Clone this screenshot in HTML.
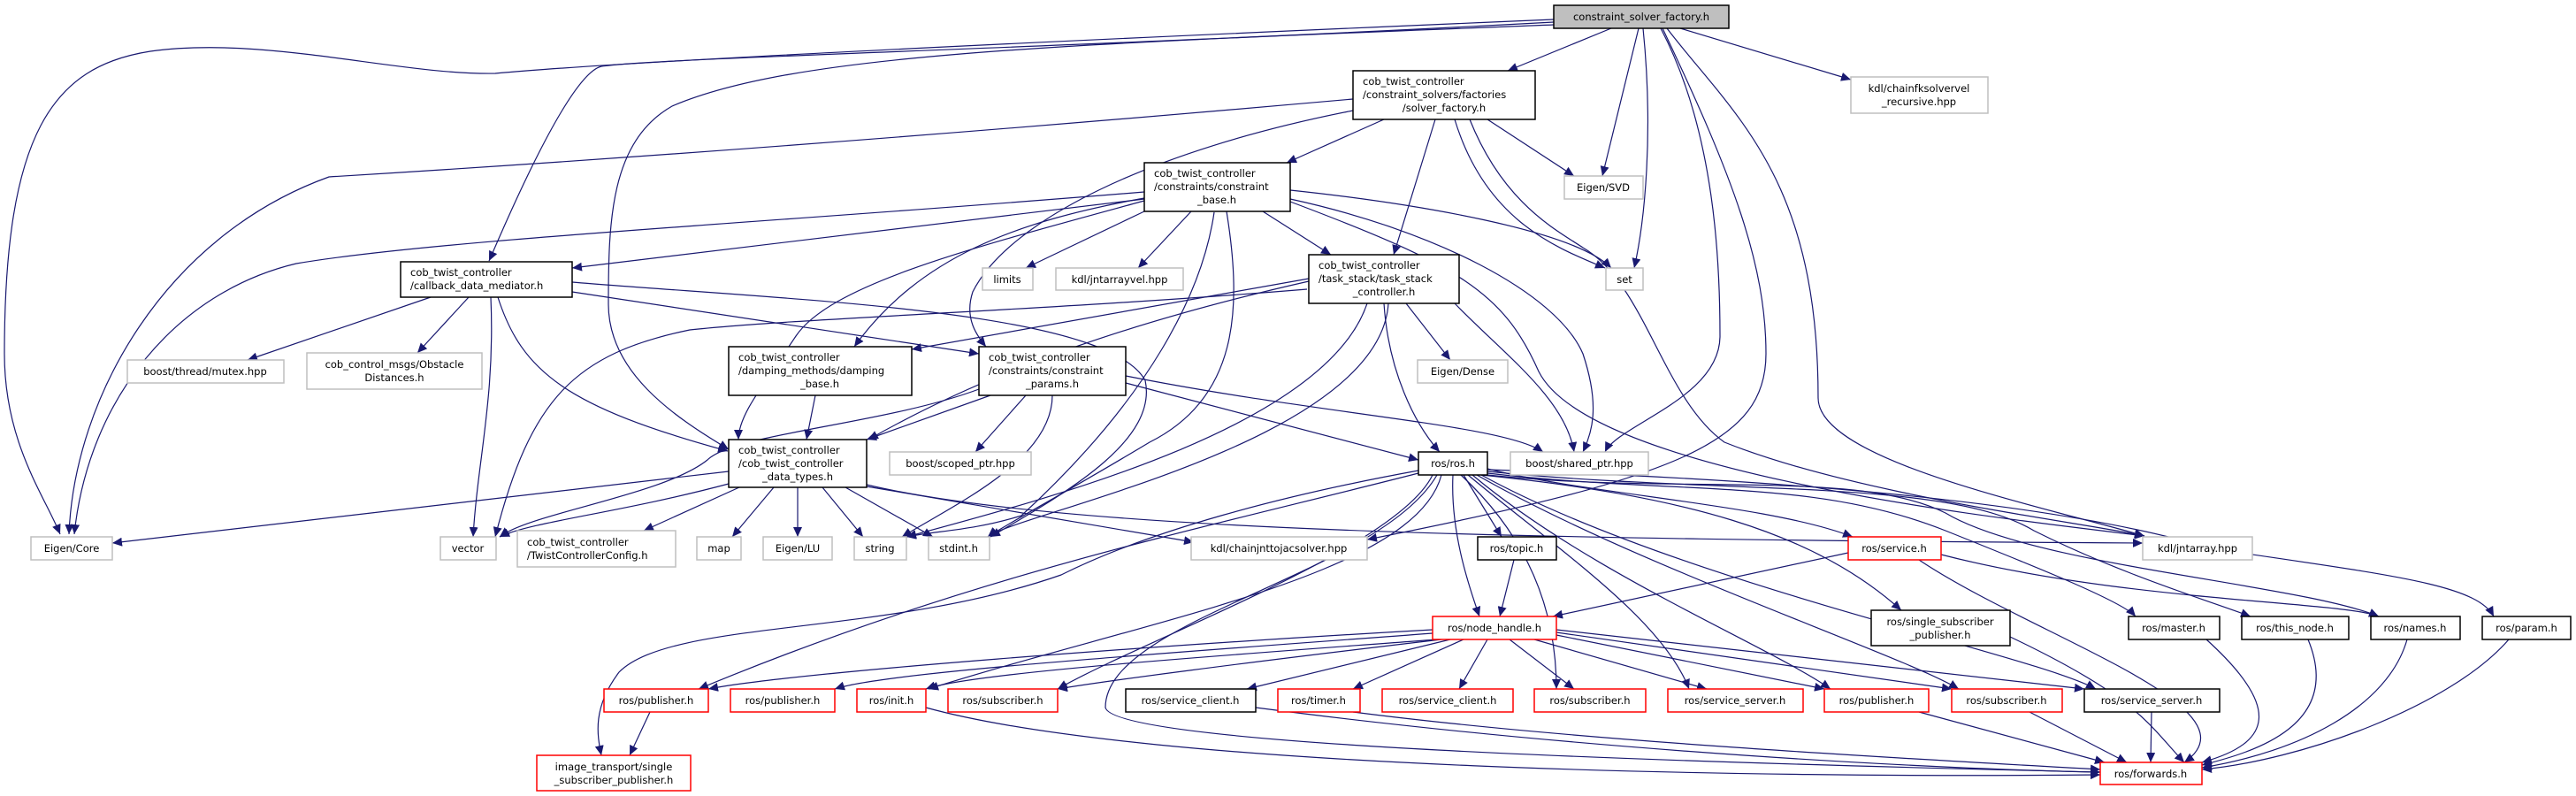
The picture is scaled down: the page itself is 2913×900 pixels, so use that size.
<!DOCTYPE html>
<html><head><meta charset="utf-8"><style>
html,body{margin:0;padding:0;background:#fff}
svg{display:block}
text{font-family:"DejaVu Sans","Liberation Sans",sans-serif;font-size:11.5px;fill:#000}
.e{fill:none;stroke:#191970;stroke-width:1.2}
.n{fill:#fff;stroke:#000;stroke-width:1.5}
.g{fill:#fff;stroke:#bfbfbf;stroke-width:1.5}
.r{fill:#fff;stroke:#ff0000;stroke-width:1.5}
</style></head><body>
<svg width="2913" height="900" viewBox="0 0 2913 900" xmlns="http://www.w3.org/2000/svg">
<defs><marker id="a" markerUnits="userSpaceOnUse" markerWidth="12" markerHeight="10" refX="11" refY="5" orient="auto"><path d="M0,0 L11,5 L0,10 z" fill="#191970"/></marker></defs>
<g marker-end="url(#a)">
<!-- CSF -->
<path class="e" d="M1757,22 C1100,50 700,70 560,83 C450,85 300,40 170,58 C60,75 5,150 5,400 C5,500 50,560 68,604"/>
<path class="e" d="M1757,25 C1200,55 750,65 680,75 C640,85 560,280 553,295"/>
<path class="e" d="M1757,28 C1200,50 900,60 760,120 C690,160 688,250 688,344 C688,420 760,470 824,508"/>
<path class="e" d="M1853,32 L1812,199"/>
<path class="e" d="M1858,32 C1870,150 1860,250 1848,303"/>
<path class="e" d="M1878,32 C1940,150 1945,300 1945,380 C1945,450 1830,480 1815,511"/>
<path class="e" d="M1885,32 C1960,130 2056,200 2056,450 C2056,520 2300,570 2425,606"/>
<path class="e" d="M1880,32 C1960,200 1997,300 1997,400 C1997,500 1900,540 1546,610"/>
<path class="e" d="M1900,32 L2093,90"/>
<path class="e" d="M1822,32 L1705,80"/>
<!-- SF -->
<path class="e" d="M1530,112 C1100,150 700,180 372,200 C186,267 84,450 78,604"/>
<path class="e" d="M1530,125 C1300,170 1140,250 1100,330 C1090,360 1105,380 1115,392"/>
<path class="e" d="M1565,135 L1455,184"/>
<path class="e" d="M1623,135 L1576,288"/>
<path class="e" d="M1682,135 L1780,199"/>
<path class="e" d="M1645,135 C1680,250 1760,280 1815,303"/>
<path class="e" d="M1662,135 C1700,230 1760,260 1790,280 C1860,320 1880,450 1950,500 C2100,560 2350,590 2425,606"/>
<!-- CB -->
<path class="e" d="M1294,225 L647,303"/>
<path class="e" d="M1294,217 C900,250 500,270 335,298 C200,330 100,450 84,604"/>
<path class="e" d="M1294,239 L1160,303"/>
<path class="e" d="M1347,239 L1287,303"/>
<path class="e" d="M1428,239 L1505,288"/>
<path class="e" d="M1459,215 C1600,230 1780,260 1822,303"/>
<path class="e" d="M1294,224 C1150,250 1040,290 966,392"/>
<path class="e" d="M1294,227 C1100,280 940,321 900,380 C860,440 835,470 835,497"/>
<path class="e" d="M1373,240 C1360,330 1300,450 1155,583 C1100,600 1060,600 1025,607"/>
<path class="e" d="M1387,239 C1405,350 1400,450 1300,500 C1200,560 1160,580 1117,607"/>
<path class="e" d="M1459,225 C1620,260 1760,330 1790,400 C1810,460 1800,490 1790,511"/>
<path class="e" d="M1459,228 C1650,300 1700,330 1740,420 C1800,540 2300,590 2425,606"/>
<!-- CDM -->
<path class="e" d="M487,336 L280,407"/>
<path class="e" d="M530,336 L472,399"/>
<path class="e" d="M555,336 C560,450 540,520 535,607"/>
<path class="e" d="M563,336 C590,420 640,460 823,510"/>
<path class="e" d="M647,330 L1107,400"/>
<path class="e" d="M647,319 C900,340 1250,350 1295,430 C1310,500 1200,560 1120,607"/>
<!-- damping / params -->
<path class="e" d="M922,447 L912,497"/>
<path class="e" d="M1107,440 C1000,480 830,490 800,520 C750,560 600,580 565,607"/>
<path class="e" d="M1120,447 L980,497"/>
<path class="e" d="M1160,447 L1103,511"/>
<path class="e" d="M1190,447 C1190,520 1080,570 1020,607"/>
<path class="e" d="M1273,433 L1604,520"/>
<path class="e" d="M1273,425 C1500,470 1700,480 1745,511"/>
<!-- task stack -->
<path class="e" d="M1478,327 C1200,350 900,360 780,373 C650,400 600,450 560,607"/>
<path class="e" d="M1480,315 L1031,395"/>
<path class="e" d="M1480,318 C1250,370 1100,430 982,497"/>
<path class="e" d="M1590,343 L1640,407"/>
<path class="e" d="M1565,343 C1570,420 1600,480 1628,511"/>
<path class="e" d="M1645,343 C1700,400 1770,450 1780,511"/>
<path class="e" d="M1546,343 C1500,480 1200,560 1025,607"/>
<path class="e" d="M1570,343 C1560,500 1150,580 1117,607"/>
<!-- data types -->
<path class="e" d="M824,533 L127,614"/>
<path class="e" d="M824,547 C700,580 600,590 565,607"/>
<path class="e" d="M836,551 L728,600"/>
<path class="e" d="M875,551 L828,607"/>
<path class="e" d="M902,551 L902,607"/>
<path class="e" d="M930,551 L976,607"/>
<path class="e" d="M956,551 L1055,607"/>
<path class="e" d="M980,550 L1350,613"/>
<path class="e" d="M980,548 C1200,600 1700,610 2423,614"/>
<!-- ros.h -->
<path class="e" d="M1655,537 L1698,607"/>
<path class="e" d="M1643,537 C1640,600 1660,660 1673,697"/>
<path class="e" d="M1604,532 C1450,560 1300,600 1200,650 C1000,720 760,700 700,760 C670,800 675,830 680,854"/>
<path class="e" d="M1604,535 C1350,600 1100,650 790,779"/>
<path class="e" d="M1630,537 C1600,650 1300,700 1050,779"/>
<path class="e" d="M1620,537 C1580,620 1300,720 1196,779"/>
<path class="e" d="M1682,530 C1800,560 2000,570 2095,607"/>
<path class="e" d="M1675,537 C1900,560 2050,600 2150,690"/>
<path class="e" d="M1652,537 C1720,600 1760,680 1760,779"/>
<path class="e" d="M1660,537 C1760,620 1880,700 1910,779"/>
<path class="e" d="M1665,537 C1800,650 2000,730 2070,779"/>
<path class="e" d="M1670,537 C1850,640 2150,740 2215,779"/>
<path class="e" d="M1675,537 C1900,660 2300,740 2370,779"/>
<path class="e" d="M1682,537 C1900,560 2100,530 2200,580 C2300,640 2600,660 2690,697"/>
<path class="e" d="M1682,535 C1900,560 2050,540 2200,600 C2300,640 2400,680 2415,697"/>
<path class="e" d="M1682,533 C1950,560 2200,540 2300,600 C2400,650 2500,680 2545,697"/>
<path class="e" d="M1682,531 C1950,540 2300,560 2500,620 C2700,650 2800,660 2820,697"/>
<path class="e" d="M1625,537 C1560,650 1250,700 1250,800 C1260,840 1800,860 2375,873"/>
<!-- node handle -->
<path class="e" d="M1620,712 C1300,730 900,760 801,779"/>
<path class="e" d="M1620,716 C1300,740 1000,760 944,779"/>
<path class="e" d="M1625,723 C1400,740 1100,760 1047,779"/>
<path class="e" d="M1630,723 C1400,750 1250,770 1196,779"/>
<path class="e" d="M1640,723 L1410,779"/>
<path class="e" d="M1655,723 L1530,779"/>
<path class="e" d="M1682,723 L1650,779"/>
<path class="e" d="M1707,723 L1780,779"/>
<path class="e" d="M1735,723 L1930,779"/>
<path class="e" d="M1760,718 L2063,779"/>
<path class="e" d="M1760,715 L2207,779"/>
<path class="e" d="M1760,712 L2357,779"/>
<!-- misc -->
<path class="e" d="M1712,633 L1696,697"/>
<path class="e" d="M2090,625 L1756,697"/>
<path class="e" d="M2195,627 C2400,680 2650,680 2690,697"/>
<path class="e" d="M2170,633 C2300,720 2560,800 2470,862"/>
<path class="e" d="M2273,720 C2420,790 2430,820 2470,862"/>
<path class="e" d="M2495,723 C2580,800 2570,840 2490,862"/>
<path class="e" d="M2610,723 C2650,820 2550,850 2490,865"/>
<path class="e" d="M2722,723 C2700,800 2600,850 2490,868"/>
<path class="e" d="M2837,723 C2770,800 2600,860 2490,870"/>
<path class="e" d="M1530,805 C1800,840 2200,860 2375,870"/>
<path class="e" d="M1420,800 C1800,850 2200,870 2375,873"/>
<path class="e" d="M1047,800 C1300,870 2000,880 2375,876"/>
<path class="e" d="M2170,805 L2380,862"/>
<path class="e" d="M2295,805 L2405,862"/>
<path class="e" d="M2433,805 L2432,862"/>
<path class="e" d="M735,805 L712,854"/>
</g>
<!-- nodes -->
<rect x="1757" y="6" width="198" height="26" fill="#bfbfbf" stroke="#000" stroke-width="1.5"/><text x="1856" y="23" text-anchor="middle">constraint_solver_factory.h</text>
<rect class="n" x="1530" y="80" width="206" height="55"/><text x="1541" y="96">cob_twist_controller</text><text x="1541" y="111">/constraint_solvers/factories</text><text x="1633" y="126" text-anchor="middle">/solver_factory.h</text>
<rect class="g" x="2093" y="87" width="155" height="41"/><text x="2170" y="104" text-anchor="middle">kdl/chainfksolvervel</text><text x="2170" y="119" text-anchor="middle">_recursive.hpp</text>
<rect class="n" x="1294" y="184" width="165" height="55"/><text x="1305" y="200">cob_twist_controller</text><text x="1305" y="215">/constraints/constraint</text><text x="1376" y="230" text-anchor="middle">_base.h</text>
<rect class="g" x="1769" y="199" width="89" height="26"/><text x="1813" y="216" text-anchor="middle">Eigen/SVD</text>
<rect class="n" x="453" y="296" width="194" height="40"/><text x="464" y="312">cob_twist_controller</text><text x="464" y="327">/callback_data_mediator.h</text>
<rect class="g" x="1111" y="303" width="57" height="25"/><text x="1139" y="320" text-anchor="middle">limits</text>
<rect class="g" x="1194" y="303" width="144" height="25"/><text x="1266" y="320" text-anchor="middle">kdl/jntarrayvel.hpp</text>
<rect class="g" x="1816" y="303" width="42" height="25"/><text x="1837" y="320" text-anchor="middle">set</text>
<rect class="n" x="1480" y="288" width="170" height="55"/><text x="1491" y="304">cob_twist_controller</text><text x="1491" y="319">/task_stack/task_stack</text><text x="1565" y="334" text-anchor="middle">_controller.h</text>
<rect class="g" x="144" y="407" width="177" height="26"/><text x="232" y="424" text-anchor="middle">boost/thread/mutex.hpp</text>
<rect class="g" x="347" y="399" width="198" height="41"/><text x="446" y="416" text-anchor="middle">cob_control_msgs/Obstacle</text><text x="446" y="431" text-anchor="middle">Distances.h</text>
<rect class="n" x="824" y="392" width="207" height="55"/><text x="835" y="408">cob_twist_controller</text><text x="835" y="423">/damping_methods/damping</text><text x="927" y="438" text-anchor="middle">_base.h</text>
<rect class="n" x="1107" y="392" width="166" height="55"/><text x="1118" y="408">cob_twist_controller</text><text x="1118" y="423">/constraints/constraint</text><text x="1190" y="438" text-anchor="middle">_params.h</text>
<rect class="g" x="1603" y="407" width="102" height="26"/><text x="1654" y="424" text-anchor="middle">Eigen/Dense</text>
<rect class="n" x="824" y="497" width="156" height="54"/><text x="835" y="513">cob_twist_controller</text><text x="835" y="528">/cob_twist_controller</text><text x="902" y="543" text-anchor="middle">_data_types.h</text>
<rect class="g" x="1006" y="511" width="160" height="26"/><text x="1086" y="528" text-anchor="middle">boost/scoped_ptr.hpp</text>
<rect class="n" x="1604" y="511" width="78" height="26"/><text x="1643" y="528" text-anchor="middle">ros/ros.h</text>
<rect class="g" x="1708" y="511" width="156" height="26"/><text x="1786" y="528" text-anchor="middle">boost/shared_ptr.hpp</text>
<rect class="g" x="35" y="607" width="92" height="26"/><text x="81" y="624" text-anchor="middle">Eigen/Core</text>
<rect class="g" x="498" y="607" width="63" height="26"/><text x="529" y="624" text-anchor="middle">vector</text>
<rect class="g" x="585" y="600" width="179" height="41"/><text x="596" y="617">cob_twist_controller</text><text x="596" y="632">/TwistControllerConfig.h</text>
<rect class="g" x="788" y="607" width="50" height="26"/><text x="813" y="624" text-anchor="middle">map</text>
<rect class="g" x="863" y="607" width="78" height="26"/><text x="902" y="624" text-anchor="middle">Eigen/LU</text>
<rect class="g" x="966" y="607" width="59" height="26"/><text x="995" y="624" text-anchor="middle">string</text>
<rect class="g" x="1050" y="607" width="69" height="26"/><text x="1084" y="624" text-anchor="middle">stdint.h</text>
<rect class="g" x="1347" y="607" width="199" height="26"/><text x="1446" y="624" text-anchor="middle">kdl/chainjnttojacsolver.hpp</text>
<rect class="n" x="1671" y="607" width="89" height="26"/><text x="1715" y="624" text-anchor="middle">ros/topic.h</text>
<rect class="r" x="2090" y="607" width="105" height="26"/><text x="2142" y="624" text-anchor="middle">ros/service.h</text>
<rect class="g" x="2423" y="607" width="124" height="26"/><text x="2485" y="624" text-anchor="middle">kdl/jntarray.hpp</text>
<rect class="r" x="1620" y="697" width="140" height="26"/><text x="1690" y="714" text-anchor="middle">ros/node_handle.h</text>
<rect class="n" x="2116" y="690" width="157" height="40"/><text x="2194" y="707" text-anchor="middle">ros/single_subscriber</text><text x="2194" y="722" text-anchor="middle">_publisher.h</text>
<rect class="n" x="2407" y="697" width="103" height="26"/><text x="2458" y="714" text-anchor="middle">ros/master.h</text>
<rect class="n" x="2535" y="697" width="121" height="26"/><text x="2595" y="714" text-anchor="middle">ros/this_node.h</text>
<rect class="n" x="2681" y="697" width="101" height="26"/><text x="2731" y="714" text-anchor="middle">ros/names.h</text>
<rect class="n" x="2807" y="697" width="100" height="26"/><text x="2857" y="714" text-anchor="middle">ros/param.h</text>
<rect class="r" x="683" y="779" width="118" height="26"/><text x="742" y="796" text-anchor="middle">ros/publisher.h</text>
<rect class="r" x="826" y="779" width="118" height="26"/><text x="885" y="796" text-anchor="middle">ros/publisher.h</text>
<rect class="r" x="969" y="779" width="78" height="26"/><text x="1008" y="796" text-anchor="middle">ros/init.h</text>
<rect class="r" x="1072" y="779" width="124" height="26"/><text x="1134" y="796" text-anchor="middle">ros/subscriber.h</text>
<rect class="n" x="1273" y="779" width="147" height="26"/><text x="1346" y="796" text-anchor="middle">ros/service_client.h</text>
<rect class="r" x="1445" y="779" width="93" height="26"/><text x="1491" y="796" text-anchor="middle">ros/timer.h</text>
<rect class="r" x="1563" y="779" width="148" height="26"/><text x="1637" y="796" text-anchor="middle">ros/service_client.h</text>
<rect class="r" x="1735" y="779" width="126" height="26"/><text x="1798" y="796" text-anchor="middle">ros/subscriber.h</text>
<rect class="r" x="1886" y="779" width="153" height="26"/><text x="1962" y="796" text-anchor="middle">ros/service_server.h</text>
<rect class="r" x="2063" y="779" width="118" height="26"/><text x="2122" y="796" text-anchor="middle">ros/publisher.h</text>
<rect class="r" x="2207" y="779" width="125" height="26"/><text x="2269" y="796" text-anchor="middle">ros/subscriber.h</text>
<rect class="n" x="2357" y="779" width="153" height="26"/><text x="2433" y="796" text-anchor="middle">ros/service_server.h</text>
<rect class="r" x="607" y="854" width="174" height="40"/><text x="694" y="871" text-anchor="middle">image_transport/single</text><text x="694" y="886" text-anchor="middle">_subscriber_publisher.h</text>
<rect class="r" x="2375" y="862" width="115" height="25"/><text x="2432" y="879" text-anchor="middle">ros/forwards.h</text>
</svg>
</body></html>
